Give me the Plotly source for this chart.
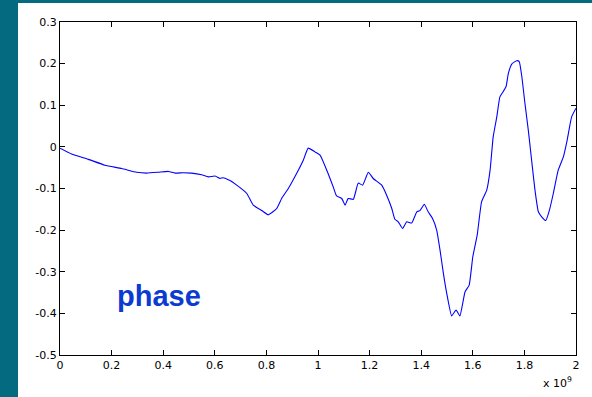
import plotly.graph_objects as go

# Frequency in units of 1e9 (Hz) and phase values
freq = [0.000, 0.045, 0.110, 0.174, 0.239, 0.297, 0.336, 0.381, 0.420, 0.446,
        0.478, 0.510, 0.549, 0.575, 0.601, 0.620, 0.632, 0.659, 0.685, 0.724,
        0.749, 0.782, 0.807, 0.840, 0.859, 0.885, 0.917, 0.943, 0.962, 0.988,
        1.008, 1.034, 1.059, 1.072, 1.092, 1.105, 1.117, 1.137, 1.156, 1.173,
        1.195, 1.214, 1.247, 1.266, 1.286, 1.298, 1.311, 1.328, 1.344, 1.363,
        1.383, 1.395, 1.412, 1.427, 1.444, 1.460, 1.473, 1.486, 1.499, 1.518,
        1.535, 1.550, 1.570, 1.586, 1.600, 1.617, 1.634, 1.654, 1.667, 1.679,
        1.693, 1.705, 1.718, 1.729, 1.738, 1.751, 1.770, 1.780, 1.790, 1.802,
        1.815, 1.828, 1.841, 1.854, 1.867, 1.883, 1.897, 1.912, 1.931, 1.951,
        1.966, 1.983, 2.000]
phase = [-0.003, -0.017, -0.030, -0.044, -0.052, -0.061, -0.063, -0.061, -0.059, -0.063,
         -0.062, -0.063, -0.067, -0.072, -0.070, -0.076, -0.074, -0.081, -0.092, -0.112,
         -0.140, -0.153, -0.163, -0.148, -0.124, -0.100, -0.064, -0.032, -0.003, -0.012,
         -0.020, -0.056, -0.096, -0.118, -0.124, -0.140, -0.124, -0.126, -0.087, -0.092,
         -0.061, -0.076, -0.092, -0.116, -0.148, -0.174, -0.180, -0.196, -0.180, -0.183,
         -0.156, -0.153, -0.138, -0.156, -0.172, -0.200, -0.248, -0.304, -0.352, -0.406,
         -0.392, -0.406, -0.348, -0.332, -0.264, -0.212, -0.132, -0.104, -0.056, 0.024,
         0.072, 0.120, 0.133, 0.145, 0.177, 0.199, 0.207, 0.205, 0.169, 0.105,
         0.041, -0.032, -0.104, -0.156, -0.168, -0.177, -0.152, -0.112, -0.056, -0.024,
         0.017, 0.072, 0.093]

x_tickvals = [0, 0.2, 0.4, 0.6, 0.8, 1, 1.2, 1.4, 1.6, 1.8, 2]
x_ticktext = ["0", "0.2", "0.4", "0.6", "0.8", "1", "1.2", "1.4", "1.6", "1.8", "2"]
y_tickvals = [0.3, 0.2, 0.1, 0, -0.1, -0.2, -0.3, -0.4, -0.5]
y_ticktext = ["0.3", "0.2", "0.1", "0", "-0.1", "-0.2", "-0.3", "-0.4", "-0.5"]

W, H = 592, 397
L, R, T, B = 60, 16, 22, 42
pw, ph = W - L - R, H - T - B
teal = "#046a80"
tick_font = dict(family="DejaVu Sans, Liberation Sans, Arial", size=11, color="black")

fig = go.Figure()
fig.add_trace(go.Scatter(x=freq, y=phase, mode="lines",
                         line=dict(color="#0000ff", width=1.1, shape="spline", smoothing=0.4),
                         showlegend=False))

axis_common = dict(showline=True, linecolor="black", linewidth=1, mirror="ticks",
                   ticks="inside", ticklen=5, tickcolor="black", showgrid=False,
                   zeroline=False, tickfont=tick_font)
fig.update_xaxes(range=[0, 2], tickvals=x_tickvals, ticktext=x_ticktext, **axis_common)
fig.update_yaxes(range=[-0.5, 0.3], tickvals=y_tickvals, ticktext=y_ticktext, **axis_common)

fig.add_annotation(x=0.215, y=-0.358, xref="x", yref="y", text="<b>phase</b>", showarrow=False,
                   xanchor="left", yanchor="middle",
                   font=dict(family="Liberation Sans, Arial", size=29, color="#0b3bd1"))
fig.add_annotation(x=(574 - L) / pw, y=-(392 - (H - B)) / ph, xref="paper", yref="paper",
                   text="x 10<sup>9</sup>", showarrow=False, xanchor="right", yanchor="bottom",
                   font=tick_font)

# teal frame (left and top bands)
fig.add_shape(type="rect", xref="paper", yref="paper", x0=-L / pw, x1=-(L - 18) / pw,
              y0=-B / ph, y1=1 + T / ph, fillcolor=teal, line=dict(width=0), layer="below")
fig.add_shape(type="rect", xref="paper", yref="paper", x0=-L / pw, x1=1 + R / pw,
              y0=1 + (T - 3) / ph, y1=1 + T / ph, fillcolor=teal, line=dict(width=0), layer="below")

fig.update_layout(width=W, height=H, margin=dict(l=L, r=R, t=T, b=B),
                  paper_bgcolor="white", plot_bgcolor="white")

fig.write_html("out.html", config={"displayModeBar": False},
               post_script="document.body.style.margin='0';document.body.style.overflow='hidden';")
